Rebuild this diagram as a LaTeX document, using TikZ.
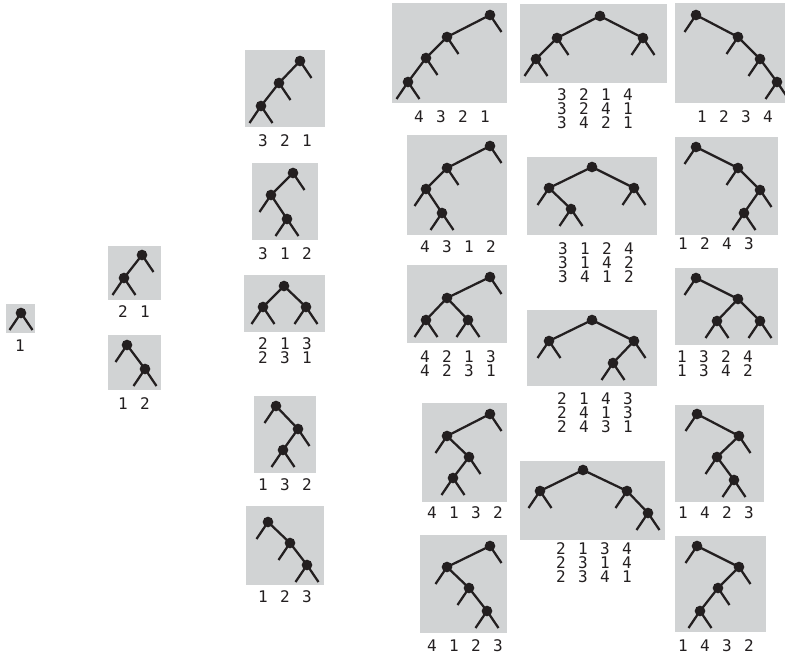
\documentclass[tikz,border=0pt]{standalone}
\usepackage{fontspec}
\newfontfamily\labfont{DejaVu Sans Mono}
\definecolor{ink}{RGB}{35,31,32}
\definecolor{boxgray}{RGB}{209,211,212}
\tikzset{
  dot/.style={circle,fill=ink,inner sep=0pt,minimum size=8pt},
  edge/.style={draw=ink,line width=1.7pt},
  panel/.style={fill=boxgray},
  perm/.style={anchor=north,inner sep=0pt,align=center,text=ink,
    font={\labfont\fontsize{12}{10.7}\selectfont\spaceskip=9.3pt\relax}}
}
\newcommand\stubL[1]{\draw[edge] (#1.center) -- ++(-11.5,17);}
\newcommand\stubR[1]{\draw[edge] (#1.center) -- ++(11.5,17);}
\newcommand\link[2]{\draw[edge] (#1.center) -- (#2.center);}
\begin{document}
\begin{tikzpicture}[x=0.75pt,y=-0.75pt]
\useasboundingbox (0,0) rectangle (785,653);
% ---------- column 1
\fill[panel] (6,304) rectangle (35,333);
\node[dot] (t1a) at (21,313) {};
\stubL{t1a}\stubR{t1a}
\node[perm] (p1) at (20,340) {1};
% ---------- column 2
\fill[panel] (108,246) rectangle (161,300);
\node[dot] (t21a) at (142,255) {};
\node[dot] (t21b) at (124,278) {};
\link{t21a}{t21b}
\stubR{t21a}\stubL{t21b}\stubR{t21b}
\node[perm] (p21) at (134,305) {2 1};

\fill[panel] (108,335) rectangle (161,390);
\node[dot] (t12a) at (127,345) {};
\node[dot] (t12b) at (145,369) {};
\link{t12a}{t12b}
\stubL{t12a}\stubL{t12b}\stubR{t12b}
\node[perm] (p12) at (134,397) {1 2};
% ---------- column 3
\fill[panel] (245,50) rectangle (325,127);
\node[dot] (t321a) at (300,61) {};
\node[dot] (t321b) at (279,83) {};
\node[dot] (t321c) at (261,106) {};
\link{t321a}{t321b}\link{t321b}{t321c}
\stubR{t321a}\stubR{t321b}\stubL{t321c}\stubR{t321c}
\node[perm] (p321) at (285,134) {3 2 1};

\fill[panel] (252,163) rectangle (318,240);
\node[dot] (t312a) at (293,173) {};
\node[dot] (t312b) at (271,195) {};
\node[dot] (t312c) at (287,219) {};
\link{t312a}{t312b}\link{t312b}{t312c}
\stubR{t312a}\stubL{t312b}\stubL{t312c}\stubR{t312c}
\node[perm] (p312) at (285,247) {3 1 2};

\fill[panel] (244,275) rectangle (325,332);
\node[dot] (t213a) at (284,286) {};
\node[dot] (t213b) at (263,307) {};
\node[dot] (t213c) at (306,307) {};
\link{t213a}{t213b}\link{t213a}{t213c}
\stubL{t213b}\stubR{t213b}\stubL{t213c}\stubR{t213c}
\node[perm] (p213) at (285,337) {2 1 3\\2 3 1};

\fill[panel] (254,396) rectangle (316,473);
\node[dot] (t132a) at (276,406) {};
\node[dot] (t132b) at (298,429) {};
\node[dot] (t132c) at (283,450) {};
\link{t132a}{t132b}\link{t132b}{t132c}
\stubL{t132a}\stubR{t132b}\stubL{t132c}\stubR{t132c}
\node[perm] (p132) at (285,478) {1 3 2};

\fill[panel] (246,506) rectangle (324,585);
\node[dot] (t123a) at (268,522) {};
\node[dot] (t123b) at (290,543) {};
\node[dot] (t123c) at (307,565) {};
\link{t123a}{t123b}\link{t123b}{t123c}
\stubL{t123a}\stubL{t123b}\stubL{t123c}\stubR{t123c}
\node[perm] (p123) at (285,590) {1 2 3};
% ---------- column 4
\fill[panel] (392,3) rectangle (507,103);
\node[dot] (u1a) at (490,15) {};
\node[dot] (u1b) at (447,37) {};
\node[dot] (u1c) at (426,58) {};
\node[dot] (u1d) at (408,82) {};
\link{u1a}{u1b}\link{u1b}{u1c}\link{u1c}{u1d}
\stubR{u1a}\stubR{u1b}\stubR{u1c}\stubL{u1d}\stubR{u1d}
\node[perm] (q1) at (452,110) {4 3 2 1};

\fill[panel] (407,135) rectangle (507,235);
\node[dot] (u2a) at (490,146) {};
\node[dot] (u2b) at (447,168) {};
\node[dot] (u2c) at (426,189) {};
\node[dot] (u2d) at (442,213) {};
\link{u2a}{u2b}\link{u2b}{u2c}\link{u2c}{u2d}
\stubR{u2a}\stubR{u2b}\stubL{u2c}\stubL{u2d}\stubR{u2d}
\node[perm] (q2) at (458,240) {4 3 1 2};

\fill[panel] (407,265) rectangle (507,343);
\node[dot] (u3a) at (490,277) {};
\node[dot] (u3b) at (447,298) {};
\node[dot] (u3c) at (426,320) {};
\node[dot] (u3d) at (468,320) {};
\link{u3a}{u3b}\link{u3b}{u3c}\link{u3b}{u3d}
\stubR{u3a}\stubL{u3c}\stubR{u3c}\stubL{u3d}\stubR{u3d}
\node[perm] (q3) at (458,350) {4 2 1 3\\4 2 3 1};

\fill[panel] (422,403) rectangle (507,502);
\node[dot] (u4a) at (490,414) {};
\node[dot] (u4b) at (447,436) {};
\node[dot] (u4c) at (469,457) {};
\node[dot] (u4d) at (453,478) {};
\link{u4a}{u4b}\link{u4b}{u4c}\link{u4c}{u4d}
\stubR{u4a}\stubL{u4b}\stubR{u4c}\stubL{u4d}\stubR{u4d}
\node[perm] (q4) at (465,506) {4 1 3 2};

\fill[panel] (420,535) rectangle (507,633);
\node[dot] (u5a) at (490,546) {};
\node[dot] (u5b) at (447,567) {};
\node[dot] (u5c) at (469,588) {};
\node[dot] (u5d) at (487,611) {};
\link{u5a}{u5b}\link{u5b}{u5c}\link{u5c}{u5d}
\stubR{u5a}\stubL{u5b}\stubL{u5c}\stubL{u5d}\stubR{u5d}
\node[perm] (q5) at (465,639) {4 1 2 3};
% ---------- column 5
\fill[panel] (520,4) rectangle (667,83);
\node[dot] (v1a) at (600,16) {};
\node[dot] (v1b) at (557,38) {};
\node[dot] (v1c) at (643,38) {};
\node[dot] (v1d) at (536,59) {};
\link{v1a}{v1b}\link{v1a}{v1c}\link{v1b}{v1d}
\stubR{v1b}\stubL{v1c}\stubR{v1c}\stubL{v1d}\stubR{v1d}
\node[perm] (r1) at (595,88) {3 2 1 4\\3 2 4 1\\3 4 2 1};

\fill[panel] (527,157) rectangle (657,235);
\node[dot] (v2a) at (592,167) {};
\node[dot] (v2b) at (549,188) {};
\node[dot] (v2c) at (634,188) {};
\node[dot] (v2d) at (571,209) {};
\link{v2a}{v2b}\link{v2a}{v2c}\link{v2b}{v2d}
\stubL{v2b}\stubL{v2c}\stubR{v2c}\stubL{v2d}\stubR{v2d}
\node[perm] (r2) at (596,242) {3 1 2 4\\3 1 4 2\\3 4 1 2};

\fill[panel] (527,310) rectangle (657,386);
\node[dot] (v3a) at (592,320) {};
\node[dot] (v3b) at (549,341) {};
\node[dot] (v3c) at (634,341) {};
\node[dot] (v3d) at (613,363) {};
\link{v3a}{v3b}\link{v3a}{v3c}\link{v3c}{v3d}
\stubL{v3b}\stubR{v3b}\stubR{v3c}\stubL{v3d}\stubR{v3d}
\node[perm] (r3) at (595,392) {2 1 4 3\\2 4 1 3\\2 4 3 1};

\fill[panel] (520,461) rectangle (665,540);
\node[dot] (v4a) at (583,470) {};
\node[dot] (v4b) at (540,491) {};
\node[dot] (v4c) at (627,491) {};
\node[dot] (v4d) at (648,513) {};
\link{v4a}{v4b}\link{v4a}{v4c}\link{v4c}{v4d}
\stubL{v4b}\stubR{v4b}\stubL{v4c}\stubL{v4d}\stubR{v4d}
\node[perm] (r4) at (594,542) {2 1 3 4\\2 3 1 4\\2 3 4 1};
% ---------- column 6
\fill[panel] (675,3) rectangle (786,103);
\node[dot] (w1a) at (696,15) {};
\node[dot] (w1b) at (738,37) {};
\node[dot] (w1c) at (760,59) {};
\node[dot] (w1d) at (777,82) {};
\link{w1a}{w1b}\link{w1b}{w1c}\link{w1c}{w1d}
\stubL{w1a}\stubL{w1b}\stubL{w1c}\stubL{w1d}\stubR{w1d}
\node[perm] (s1) at (735,110) {1 2 3 4};

\fill[panel] (675,137) rectangle (778,235);
\node[dot] (w2a) at (696,147) {};
\node[dot] (w2b) at (738,168) {};
\node[dot] (w2c) at (760,190) {};
\node[dot] (w2d) at (744,213) {};
\link{w2a}{w2b}\link{w2b}{w2c}\link{w2c}{w2d}
\stubL{w2a}\stubL{w2b}\stubR{w2c}\stubL{w2d}\stubR{w2d}
\node[perm] (s2) at (716,237) {1 2 4 3};

\fill[panel] (675,268) rectangle (778,345);
\node[dot] (w3a) at (696,278) {};
\node[dot] (w3b) at (738,299) {};
\node[dot] (w3c) at (717,321) {};
\node[dot] (w3d) at (760,321) {};
\link{w3a}{w3b}\link{w3b}{w3c}\link{w3b}{w3d}
\stubL{w3a}\stubL{w3c}\stubR{w3c}\stubL{w3d}\stubR{w3d}
\node[perm] (s3) at (715,350) {1 3 2 4\\1 3 4 2};

\fill[panel] (675,405) rectangle (764,502);
\node[dot] (w4a) at (697,414) {};
\node[dot] (w4b) at (739,436) {};
\node[dot] (w4c) at (717,457) {};
\node[dot] (w4d) at (734,480) {};
\link{w4a}{w4b}\link{w4b}{w4c}\link{w4c}{w4d}
\stubL{w4a}\stubR{w4b}\stubL{w4c}\stubL{w4d}\stubR{w4d}
\node[perm] (s4) at (716,506) {1 4 2 3};

\fill[panel] (675,536) rectangle (766,632);
\node[dot] (w5a) at (697,546) {};
\node[dot] (w5b) at (739,567) {};
\node[dot] (w5c) at (718,588) {};
\node[dot] (w5d) at (700,611) {};
\link{w5a}{w5b}\link{w5b}{w5c}\link{w5c}{w5d}
\stubL{w5a}\stubR{w5b}\stubR{w5c}\stubL{w5d}\stubR{w5d}
\node[perm] (s5) at (716,639) {1 4 3 2};
\end{tikzpicture}
\end{document}
